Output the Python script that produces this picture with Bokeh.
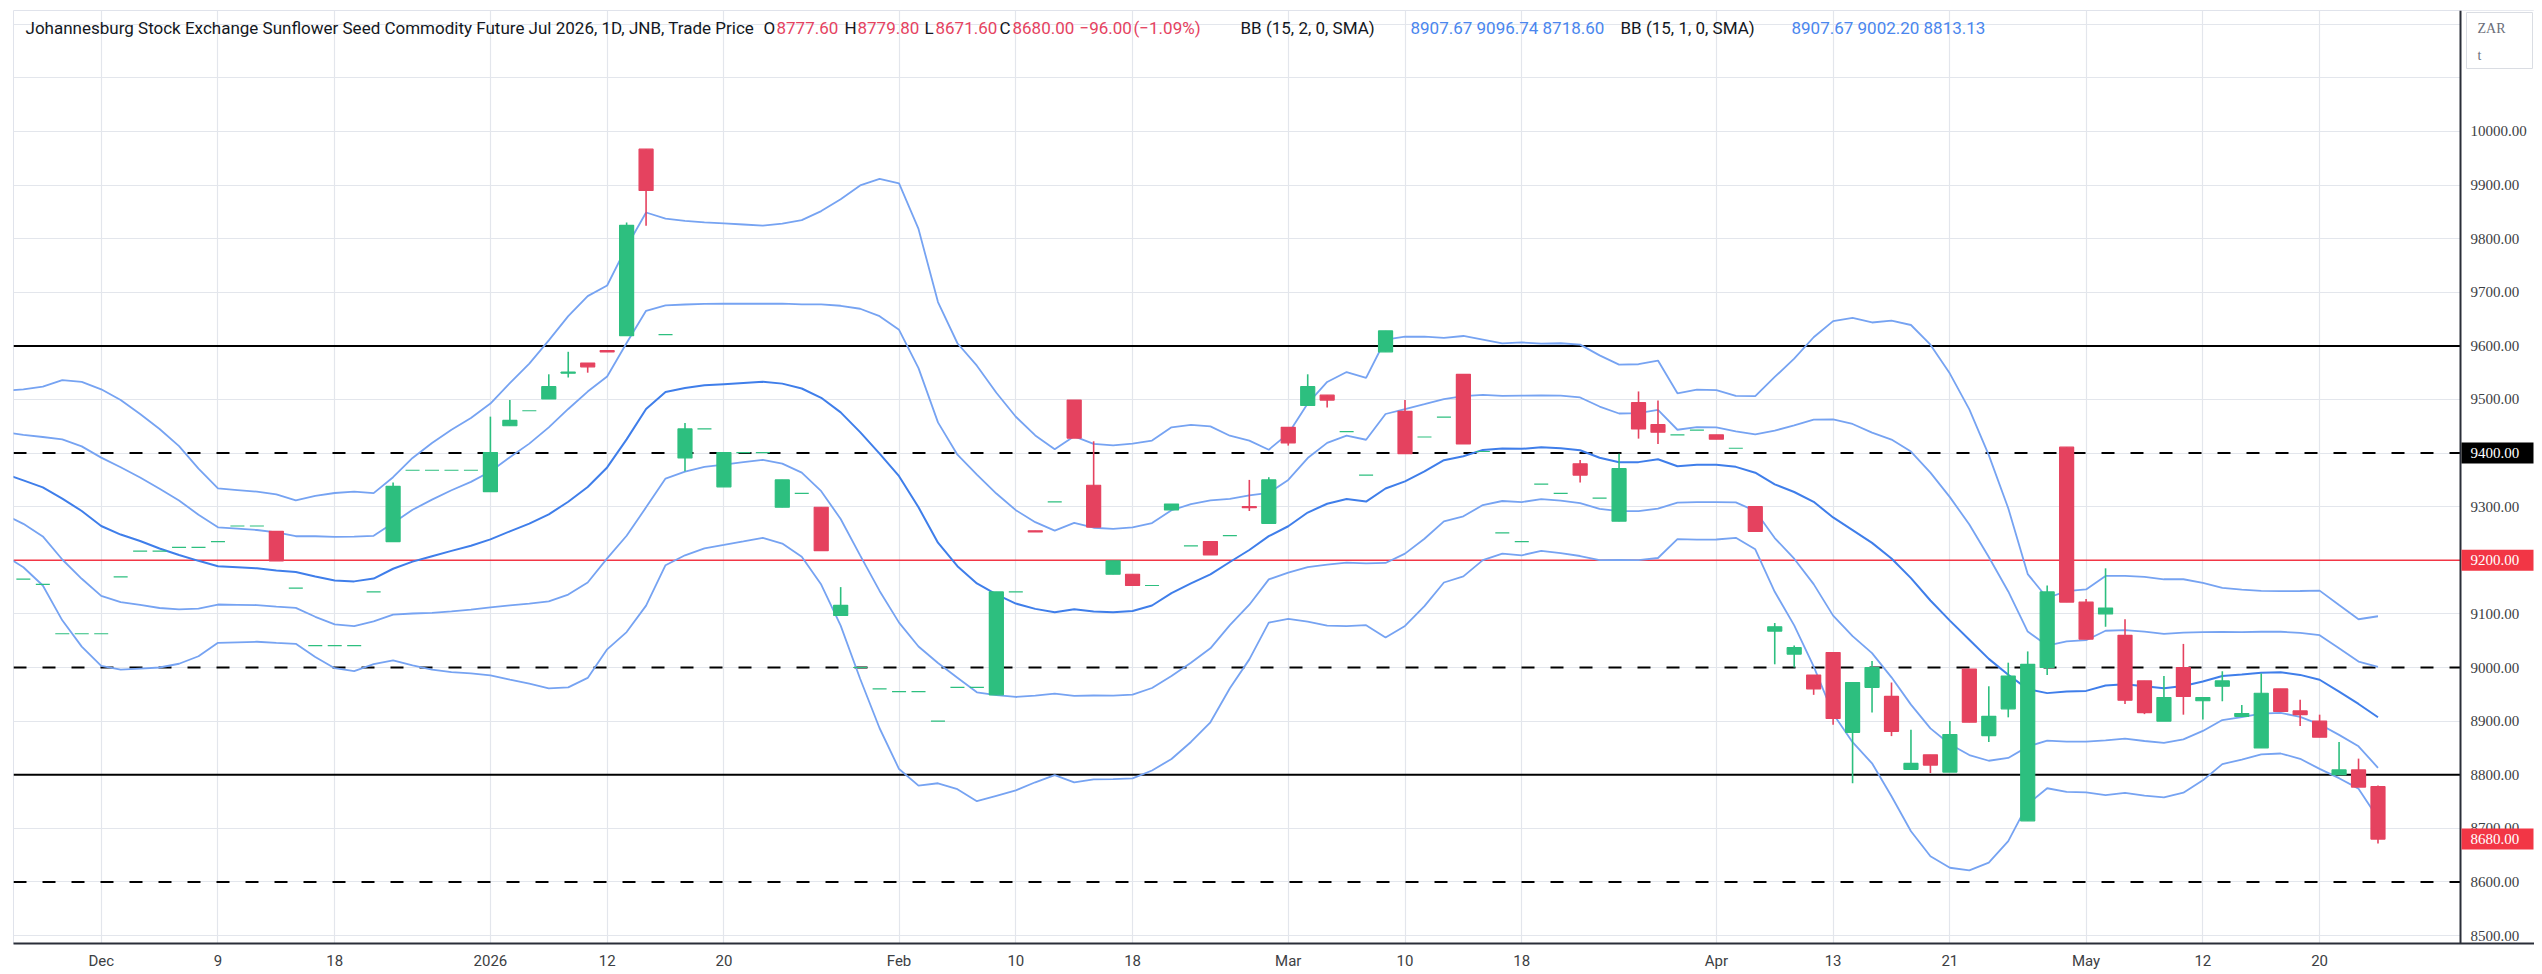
import numpy as np
import pandas as pd
from bokeh.plotting import figure
from bokeh.models import Range1d, FixedTicker, Span, Label
from bokeh.embed import file_html
from bokeh.resources import INLINE

# ---------------- data ----------------
holidays = ["2025-12-16", "2025-12-25", "2025-12-26", "2026-01-01",
            "2026-04-03", "2026-04-06", "2026-04-27", "2026-05-01"]
dates = [d for d in pd.bdate_range("2025-11-25", "2026-05-25")
         if d.strftime("%Y-%m-%d") not in holidays]

opens = [9165, 9155, 9063, 9063, 9063, 9169, 9217, 9217, 9224, 9224,
         9235, 9264, 9264, 9254, 9148, 9041, 9041, 9041, 9141, 9235,
         9368, 9368, 9368, 9368, 9328, 9451, 9479, 9501, 9549, 9568,
         9591, 9619, 9967, 9621, 9391, 9445, 9337, 9401, 9401, 9299,
         9325, 9299, 9097, 9000, 8960, 8955, 8955, 8900, 8963, 8963,
         8949, 9141, 9255, 9309, 9499, 9340, 9174, 9174, 9153, 9294,
         9227, 9235, 9246, 9300, 9269, 9448, 9489, 9508, 9440, 9359,
         9589, 9478, 9430, 9467, 9547, 9403, 9251, 9235, 9342, 9325,
         9380, 9316, 9273, 9494, 9453, 9434, 9443, 9434, 9409, 9300,
         9068, 9025, 8986, 9028, 8879, 8963, 8946, 8810, 8837, 8805,
         8997, 8873, 8923, 8714, 9000, 9411, 9122, 9100, 9060, 8975,
         8900, 9000, 8938, 8965, 8909, 8850, 8960, 8919, 8900, 8800,
         8809, 8777.6]
highs = [9165, 9155, 9063, 9063, 9063, 9169, 9217, 9217, 9224, 9224,
         9235, 9264, 9264, 9254, 9148, 9041, 9041, 9041, 9141, 9345,
         9368, 9368, 9368, 9368, 9468, 9499, 9479, 9547, 9589, 9568,
         9591, 9830, 9967, 9621, 9456, 9445, 9401, 9401, 9401, 9350,
         9325, 9299, 9150, 9000, 8960, 8955, 8955, 8900, 8963, 8963,
         9141, 9141, 9255, 9309, 9499, 9422, 9199, 9174, 9153, 9305,
         9227, 9235, 9246, 9350, 9355, 9448, 9547, 9508, 9440, 9359,
         9628, 9499, 9430, 9467, 9547, 9403, 9251, 9235, 9342, 9325,
         9387, 9316, 9399, 9515, 9498, 9434, 9443, 9434, 9409, 9300,
         9083, 9041, 8986, 9028, 8972, 9012, 8972, 8884, 8837, 8900,
         8997, 8965, 9009, 9030, 9153, 9411, 9128, 9185, 9090, 8975,
         8984, 9044, 8944, 8993, 8930, 8989, 8960, 8940, 8912, 8861,
         8830, 8779.8]
lows = [9165, 9155, 9063, 9063, 9063, 9169, 9217, 9217, 9224, 9224,
        9235, 9264, 9264, 9199, 9148, 9041, 9041, 9041, 9141, 9235,
        9368, 9368, 9368, 9368, 9328, 9451, 9479, 9501, 9541, 9550,
        9589, 9619, 9824, 9621, 9366, 9445, 9337, 9401, 9401, 9299,
        9325, 9218, 9097, 9000, 8960, 8955, 8955, 8900, 8963, 8963,
        8949, 9141, 9253, 9309, 9428, 9262, 9174, 9153, 9153, 9294,
        9227, 9210, 9246, 9292, 9269, 9414, 9489, 9485, 9440, 9359,
        9589, 9399, 9430, 9467, 9417, 9403, 9251, 9235, 9342, 9325,
        9345, 9316, 9273, 9427, 9417, 9434, 9443, 9426, 9409, 9254,
        9006, 9000, 8949, 8893, 8784, 8916, 8872, 8810, 8803, 8805,
        8898, 8861, 8907, 8714, 8986, 9122, 9053, 9076, 8932, 8913,
        8900, 8912, 8903, 8937, 8909, 8850, 8918, 8891, 8870, 8800,
        8777, 8671.6]
closes = [9165, 9155, 9063, 9063, 9063, 9169, 9217, 9217, 9224, 9224,
          9235, 9264, 9264, 9199, 9148, 9041, 9041, 9041, 9141, 9338,
          9368, 9368, 9368, 9368, 9401, 9461, 9479, 9524, 9551, 9561,
          9589, 9825, 9890, 9621, 9445, 9445, 9401, 9401, 9401, 9350,
          9325, 9218, 9116, 9000, 8960, 8955, 8955, 8900, 8963, 8963,
          9141, 9141, 9253, 9309, 9428, 9262, 9199, 9153, 9153, 9305,
          9227, 9210, 9246, 9298, 9350, 9419, 9524, 9499, 9440, 9359,
          9628, 9399, 9430, 9467, 9417, 9403, 9251, 9235, 9342, 9325,
          9359, 9316, 9371, 9445, 9439, 9434, 9443, 9426, 9409, 9254,
          9076, 9037, 8960, 8905, 8972, 9000, 8881, 8821, 8818, 8875,
          8898, 8909, 8984, 9006, 9141, 9122, 9053, 9111, 8939, 8916,
          8944, 8946, 8944, 8975, 8914, 8952, 8918, 8912, 8870, 8809,
          8777, 8680.0]

# Bollinger values for the first days (history before the view)
bb_mid_early = [9362, 9349, 9336, 9315, 9292, 9264, 9248, 9236, 9222, 9210, 9199, 9189, 9187, 9185, 9181]
bb_up2_early = [9516, 9519, 9524, 9536, 9533, 9519, 9499, 9473, 9445, 9413, 9371, 9334, 9331, 9328, 9323]
bb_lo2_early = [9210, 9187, 9153, 9088, 9039, 9003, 8996, 8998, 9000, 9007, 9021, 9046, 9047, 9048, 9046]

tick_dates = ["2025-12-01", "2025-12-09", "2025-12-18", "2026-01-02", "2026-01-12", "2026-01-20",
              "2026-02-02", "2026-02-10", "2026-02-18", "2026-03-02", "2026-03-10", "2026-03-18",
              "2026-04-01", "2026-04-13", "2026-04-21", "2026-05-04", "2026-05-12", "2026-05-20"]
tick_labels = ["Dec", "9", "18", "2026", "12", "20", "Feb", "10", "18", "Mar", "10", "18",
               "Apr", "13", "21", "May", "12", "20"]

price_grid = list(range(8500, 10201, 100))
price_labels = list(range(8500, 10001, 100))
level_solid = [9600, 8800]
level_dashed = [9400, 9000, 8600]
level_red = 9200
last_price = 8680.00
bb2_text = "8907.67  9096.74  8718.60"
bb1_text = "8907.67  9002.20  8813.13"

# ---------------- derived ----------------
n = len(closes)
x = np.arange(n)
o = np.array(opens, float); c = np.array(closes, float)
h = np.array(highs, float); l = np.array(lows, float)

s = pd.Series(c)
mid_c = s.rolling(15).mean().to_numpy()
sd_c = s.rolling(15).std(ddof=0).to_numpy()
k0 = len(bb_mid_early) - 1
bx = np.concatenate([np.arange(-1, k0), x[k0:]])
mid = np.concatenate([bb_mid_early, mid_c[k0:]])
up2 = np.concatenate([bb_up2_early, (mid_c + 2 * sd_c)[k0:]])
lo2 = np.concatenate([bb_lo2_early, (mid_c - 2 * sd_c)[k0:]])
up1 = mid + (up2 - mid) / 2
lo1 = mid - (mid - lo2) / 2

date_str = [d.strftime("%Y-%m-%d") for d in dates]
tick_idx = [date_str.index(d) for d in tick_dates]

# ---------------- layout helpers (page pixels -> data) ----------------
PX_PER_DAY = 2447 / 125.747
FL, FR, FT, FB = 13, 2534, 10, 943
X0 = -0.507
X1 = X0 + (FR - FL) / PX_PER_DAY
Y0, Y1 = 8485.1, 10225.7


def dx(px):
    return X0 + (px - FL) * (X1 - X0) / (FR - FL)


def dy(py):
    return Y1 - (py - FT) * (Y1 - Y0) / (FB - FT)


PY = (Y1 - Y0) / (FB - FT)  # price per pixel
AXIS_X = dx(2460)

GREEN = "#2DBF7F"
RED = "#E5425F"
TAGRED = "#F23645"
BAND = "#76A3F2"
BAND_MID = "#3F7EEA"
TXT = "#131722"
SCALE_TXT = "#3C4043"
FONT = "Roboto"

p = figure(frame_width=FR - FL, frame_height=FB - FT, output_backend="svg", toolbar_location=None,
           x_range=Range1d(X0, X1), y_range=Range1d(Y0, Y1), y_axis_location=None,
           min_border_left=FL, min_border_top=FT, min_border_right=0, min_border_bottom=0,
           background_fill_color="white", border_fill_color="white")
p.outline_line_color = "#E0E3EB"

# grids
p.xgrid.grid_line_color = "#E3E6EC"
p.ygrid.grid_line_color = "#E3E6EC"
p.xgrid.grid_line_width = 1.2
p.ygrid.grid_line_width = 1.2
p.ygrid.ticker = FixedTicker(ticks=price_grid)

# x axis
p.xaxis.ticker = FixedTicker(ticks=tick_idx)
p.xaxis.major_label_overrides = {i: t for i, t in zip(tick_idx, tick_labels)}
ax = p.xaxis[0]
ax.major_tick_out = 0
ax.major_tick_in = 0
ax.minor_tick_out = 0
ax.minor_tick_in = 0
ax.axis_line_color = "#2A2E39"
ax.axis_line_width = 2
ax.major_label_text_font = FONT
ax.major_label_text_font_size = "15px"
ax.major_label_text_color = SCALE_TXT
ax.major_label_standoff = 8

# horizontal levels
for v in level_solid:
    p.add_layout(Span(location=v, dimension="width", line_color="black", line_width=2, level="underlay"))
for v in level_dashed:
    p.add_layout(Span(location=v, dimension="width", line_color="black", line_width=2,
                      line_dash="13 16", level="underlay"))
p.add_layout(Span(location=level_red, dimension="width", line_color=TAGRED, line_width=1.6, level="underlay"))

# price-scale panel (white background over grid/levels) and its border line
p.quad(left=[AXIS_X], right=[X1], bottom=[Y0], top=[Y1], fill_color="white", line_color=None)
p.segment(x0=[AXIS_X], y0=[Y0], x1=[AXIS_X], y1=[Y1], line_color="#2A2E39", line_width=2)

# bands
for arr in (up2, up1, lo1, lo2):
    p.line(bx, arr, line_color=BAND, line_width=1.8)
p.line(bx, mid, line_color=BAND_MID, line_width=2)

# candles
cols = [GREEN if cc >= oo else RED for oo, cc in zip(o, c)]
p.segment(x0=x, y0=l, x1=x, y1=h, line_color=cols, line_width=1.6)
p.vbar(x=x, width=0.72, top=np.maximum(o, c), bottom=np.minimum(o, c),
       fill_color=cols, line_color=cols, line_width=1.2)

# price-scale labels
p.text(x=[dx(2470)] * len(price_labels), y=price_labels, text=[f"{v:.2f}" for v in price_labels],
       text_font=FONT, text_font_size="15px", text_color=SCALE_TXT,
       text_align="left", text_baseline="middle")

# price tags
tag_vals = [9400, level_red, last_price]
tag_cols = ["black", TAGRED, TAGRED]
p.quad(left=[dx(2461)] * 3, right=[dx(2533)] * 3,
       bottom=[v - 10.5 * PY for v in tag_vals], top=[v + 10.5 * PY for v in tag_vals],
       fill_color=tag_cols, line_color=None)
p.text(x=[dx(2470)] * 3, y=tag_vals, text=[f"{v:.2f}" for v in tag_vals],
       text_font=FONT, text_font_size="15px", text_color="white",
       text_align="left", text_baseline="middle")

# currency box
p.quad(left=[dx(2466)], right=[dx(2532)], top=[dy(12)], bottom=[dy(68)],
       fill_color="white", line_color="#DADDE3", line_width=1)
p.text(x=[dx(2477), dx(2477)], y=[dy(28), dy(55)], text=["ZAR", "t"],
       text_font=FONT, text_font_size="14px", text_color="#6A6D78",
       text_align="left", text_baseline="middle")

# header legend
hy = dy(27)
BLUE_TXT = "#4A86EE"
header = [
    (25, "Johannesburg Stock Exchange Sunflower Seed Commodity Future Jul 2026, 1D, JNB, Trade Price", TXT),
    (763, "O", TXT), (776, f"{opens[-1]:.2f}", RED),
    (844, "H", TXT), (857, f"{highs[-1]:.2f}", RED),
    (924, "L", TXT), (935, f"{lows[-1]:.2f}", RED),
    (999, "C", TXT), (1012, f"{closes[-1]:.2f}", RED),
    (1079, "\u221296.00", RED), (1133, "(\u22121.09%)", RED),
    (1240, "BB (15, 2, 0, SMA)", TXT), (1410, bb2_text, BLUE_TXT),
    (1620, "BB (15, 1, 0, SMA)", TXT), (1791, bb1_text, BLUE_TXT),
]
for px, t, col in header:
    p.add_layout(Label(x=dx(px), y=hy, text=t, text_color=col, text_font=FONT, text_font_size="17px",
                       text_align="left", text_baseline="middle"))

open("out.html", "w").write(file_html(p, INLINE))
